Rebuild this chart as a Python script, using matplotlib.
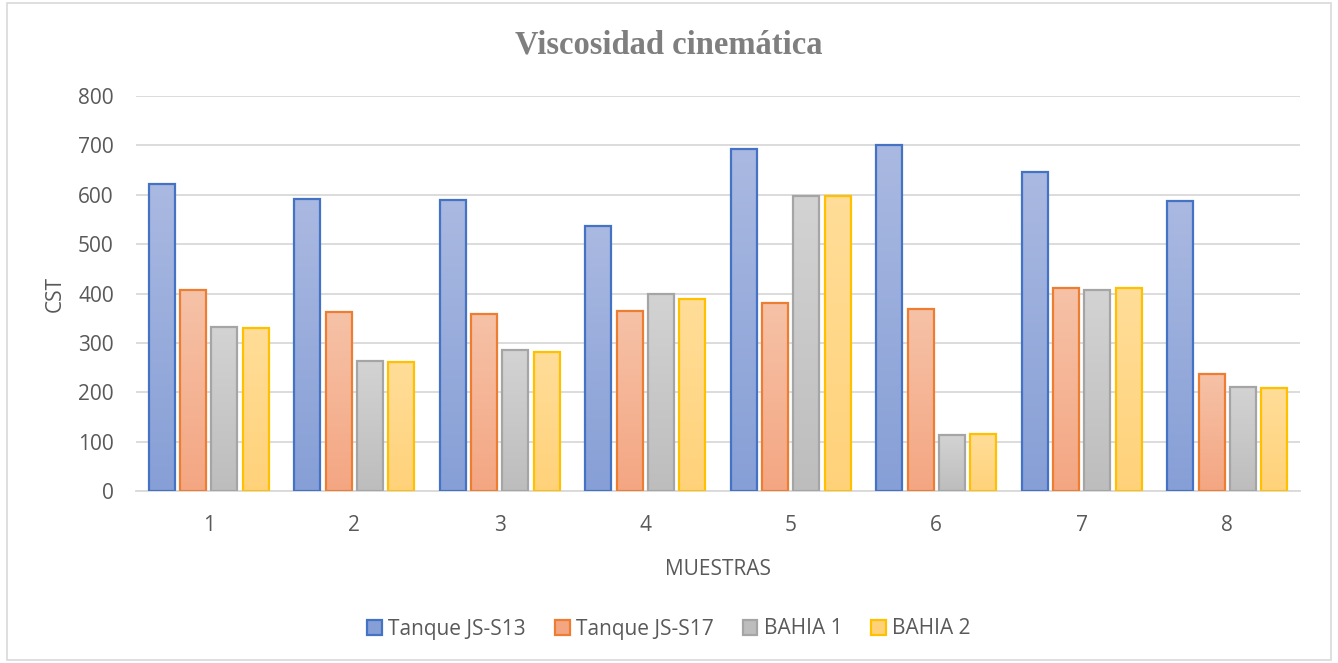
import numpy as np
import matplotlib
matplotlib.use("Agg")
import matplotlib.pyplot as plt
from matplotlib.colors import LinearSegmentedColormap
from matplotlib.patches import Rectangle

# viscosity per sample, cSt
muestras = ["1", "2", "3", "4", "5", "6", "7", "8"]
series_names = ["Tanque JS-S13", "Tanque JS-S17", "BAHIA 1", "BAHIA 2"]
js_s13 = [621, 591, 589, 536, 692, 700, 646, 587]
js_s17 = [407, 362, 358, 364, 381, 368, 411, 237]
bahia_1 = [332, 263, 285, 399, 597, 113, 407, 211]
bahia_2 = [330, 261, 281, 389, 597, 115, 411, 209]
yticks = [0, 100, 200, 300, 400, 500, 600, 700, 800]

# (edge, top fill, bottom fill)
styles = [
    ("#4472C4", "#AAB9E1", "#869FD6"),
    ("#ED7D31", "#F6C2A7", "#F4A682"),
    ("#A5A5A5", "#D3D3D3", "#BDBDBD"),
    ("#FFC000", "#FFDD98", "#FFD27A"),
]

plt.rcParams["font.family"] = ["Open Sans", "DejaVu Sans"]
txt = "#595959"

fig = plt.figure(figsize=(13.38, 6.63), dpi=100)
ax = fig.add_axes([136 / 1338, 1 - 491 / 663, (1300 - 136) / 1338, (491 - 96) / 663])

fig.patches.append(Rectangle((7 / 1338, 3 / 663), 1324 / 1338, 657 / 663,
                             transform=fig.transFigure, fill=False,
                             edgecolor="#D9D9D9", lw=1.2))

data = [js_s13, js_s17, bahia_1, bahia_2]
x = np.arange(len(muestras))
pitch = 0.215
width = 0.18
grad = np.linspace(0, 1, 256).reshape(-1, 1)

for i, (vals, (edge, top, bot)) in enumerate(zip(data, styles)):
    cmap = LinearSegmentedColormap.from_list("g%d" % i, [bot, top])
    offs = (i - 1.5) * pitch
    bars = ax.bar(x + offs, vals, width, facecolor="none", edgecolor=edge,
                  linewidth=1.6, zorder=3)
    for b in bars:
        x0, w, h = b.get_x(), b.get_width(), b.get_height()
        ax.imshow(grad, extent=(x0, x0 + w, 0, h), origin="lower", cmap=cmap,
                  aspect="auto", zorder=2.5, interpolation="bilinear")

ax.set_xlim(-0.5, len(muestras) - 0.5)
ax.set_ylim(0, 800)
ax.set_xticks(x)
ax.set_xticklabels(muestras)
ax.set_yticks(yticks)
ax.grid(axis="y", color="#D9D9D9", lw=1.3, zorder=0)
ax.set_axisbelow(True)
for s in ["top", "right", "left"]:
    ax.spines[s].set_visible(False)
ax.spines["bottom"].set_color("#D9D9D9")
ax.spines["bottom"].set_linewidth(1.3)
ax.tick_params(axis="both", length=0, labelsize=15, colors=txt)
ax.tick_params(axis="y", pad=16)
ax.tick_params(axis="x", pad=17)

ax.set_xlabel("MUESTRAS", fontsize=15, color=txt, labelpad=17)
ax.set_ylabel("CST", fontsize=15, color=txt, labelpad=9)

fig.text(0.5, 1 - 45 / 663, "Viscosidad cinemática", ha="center", va="center",
         fontsize=23.5, fontweight="bold", color="#7F7F7F",
         family=["Liberation Serif", "DejaVu Serif"])

handles = [Rectangle((0, 0), 1, 1, facecolor=mid, edgecolor=edge, lw=1.6)
           for edge, _, mid in styles]
fig.legend(handles, series_names, loc="center", bbox_to_anchor=(0.5, 1 - 629 / 663),
           ncol=4, frameon=False, fontsize=15, labelcolor=txt,
           handlelength=0.7, handleheight=0.7, handletextpad=0.3, columnspacing=1.4)

fig.savefig("out.png", dpi=100)
